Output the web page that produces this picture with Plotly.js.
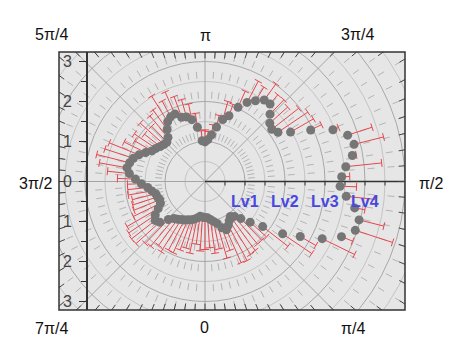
<!DOCTYPE html>
<html><head><meta charset="utf-8">
<script src="https://cdn.plot.ly/plotly-3.0.1.min.js"></script>
<style>html,body{margin:0;padding:0;background:#fff}#chart{width:456px;height:356px}</style>
</head><body><div id="chart"></div>
<script>
// ---- data ----
const thetaDeg = [0,4,8,12,16,20,24,28,32,36,40,44,48,52,56,60,64,68,72,76,80,84,88,92,96,100,104,108,112,116,120,124,128,132,136,140,144,148,152,156,160,164,168,172,176,180,184,188,192,196,200,204,208,212,216,220,224,228,232,236,240,244,248,252,256,260,264,268,272,276,280,284,288,292,296,300,304,308,312,316,320,324,328,332,336,340,344,348,352,356];
const radius = [0.90,0.91,0.96,1.02,1.09,1.23,1.32,1.24,1.15,1.08,1.14,1.29,1.52,1.83,2.34,2.75,3.26,3.68,3.95,3.97,3.80,3.55,3.38,3.42,3.54,3.74,3.84,3.75,3.45,2.94,2.47,2.20,2.12,2.18,2.34,2.53,2.52,2.38,2.24,2.03,1.75,1.61,1.39,1.18,1.05,0.99,1.02,1.37,1.58,1.68,1.71,1.85,1.83,1.76,1.61,1.44,1.37,1.38,1.42,1.48,1.53,1.65,1.78,1.88,1.94,1.98,1.90,1.74,1.59,1.44,1.35,1.27,1.25,1.22,1.24,1.35,1.50,1.58,1.52,1.32,1.21,1.17,1.12,1.09,1.05,1.02,0.98,0.93,0.88,0.89];
const errPlus = [0.80,0.75,0.85,0.70,0.90,0.60,0.90,1.00,1.00,1.05,0.90,0.75,0.55,0.80,0.88,0.45,0.90,0.30,0.98,0.64,0.26,0.76,0.41,0.20,0.90,0.10,0.76,0.64,0.15,0.30,0.66,0.90,0.85,0.60,0.50,0.30,0.50,0.40,0.60,0.44,0.30,0.47,0.30,0.25,0.20,0.30,0.25,0.35,0.40,0.45,0.55,0.60,0.45,0.76,0.60,0.70,0.55,0.80,0.50,0.65,0.50,0.60,0.80,0.75,0.85,0.70,0.55,0.45,0.35,0.50,0.60,0.60,0.65,0.70,0.75,0.90,0.80,0.75,0.80,0.83,0.90,0.80,0.95,0.85,0.90,0.80,0.75,0.90,0.70,0.85];
const radialLabels = ['Lv1','Lv2','Lv3','Lv4'];
const radialLabelVals = [1,2,3,4];
const angleLabels = ['0','π/4','π/2','3π/4','π','5π/4','3π/2','7π/4'];
const yTickVals = [-3,-2,-1,0,1,2,3];
const yTickText = ['3','2','1','0','1','2','3'];

// ---- layout constants ----
const W = 456, H = 356, ML = 59, MR = 51, MT = 52, MB = 46;
const XR = [-3.65, 5.0], YR = [-3.2125, 3.2375];
// angle label centres in page pixels
const angleLabelPx = [[204.5,327],[352.7,328],[431,183],[357.5,34],[205,35],[51,34],[35,183],[51,328]];
const FONT = 'Liberation Sans, Arial, sans-serif';

function dir(tdeg){ const t = tdeg*Math.PI/180; return [Math.sin(t), -Math.cos(t)]; }

// ---- grid shapes ----
const shapes = [];
for (let k = 1; k <= 12; k++) {
  const r = k*0.5;
  const major = (k % 2 === 0);
  shapes.push({type:'circle', xref:'x', yref:'y', x0:-r, y0:-r, x1:r, y1:r, layer:'below',
    line:{color: major ? '#a8a8a8' : '#c4c4c4', width:1}});
}
for (let a = 0; a < 360; a += 4.5) {
  if (a % 45 === 0) continue;
  const d = dir(a);
  shapes.push({type:'line', xref:'x', yref:'y', x0:d[0]*1.075, y0:d[1]*1.075, x1:d[0]*7, y1:d[1]*7, layer:'below',
    line:{color:'#b4b4b4', width:1, dash:'7px,13px'}});
}
for (let a = 0; a < 360; a += 45) {
  if (a === 90) continue;
  const d = dir(a);
  shapes.push({type:'line', xref:'x', yref:'y', x0:0, y0:0, x1:d[0]*7, y1:d[1]*7, layer:'below',
    line:{color:'#a4a4a4', width:1}});
}
shapes.push({type:'line', xref:'x', yref:'y', x0:0, y0:0, x1:XR[1], y1:0, layer:'below', line:{color:'#333', width:1.5}});
for (let v = 0.5; v < XR[1]; v += 0.5) {
  shapes.push({type:'line', xref:'x', yref:'y', x0:v, y0:0, x1:v, y1:-0.1, layer:'below', line:{color:'#333', width:1}});
}
for (let a = 0; a < 360; a += 4.5) {
  const d = dir(a);
  let t = Infinity;
  if (d[0] > 1e-9) t = Math.min(t, XR[1]/d[0]);
  if (d[0] < -1e-9) t = Math.min(t, XR[0]/d[0]);
  if (d[1] > 1e-9) t = Math.min(t, YR[1]/d[1]);
  if (d[1] < -1e-9) t = Math.min(t, YR[0]/d[1]);
  shapes.push({type:'line', xref:'x', yref:'y', x0:d[0]*(t-0.16), y0:d[1]*(t-0.16), x1:d[0]*t, y1:d[1]*t,
    line:{color:'#444', width:1}});
}
shapes.push({type:'rect', xref:'paper', yref:'paper', x0:0, y0:0, x1:1, y1:1, line:{color:'#333', width:1.5}});

// ---- traces ----
const px = [], py = [], ex = [], ey = [];
const cap = 0.1;
for (let i = 0; i < thetaDeg.length; i++) {
  const d = dir(thetaDeg[i]);
  const r0 = radius[i], r1 = radius[i] + errPlus[i];
  px.push(d[0]*r0); py.push(d[1]*r0);
  ex.push(d[0]*r0, d[0]*r1, null); ey.push(d[1]*r0, d[1]*r1, null);
  const tx = -d[1], ty = d[0];
  ex.push(d[0]*r1 - tx*cap, d[0]*r1 + tx*cap, null);
  ey.push(d[1]*r1 - ty*cap, d[1]*r1 + ty*cap, null);
}
const traces = [
  {type:'scatter', mode:'lines', x:ex, y:ey, line:{color:'#e8464e', width:1}, hoverinfo:'skip'},
  {type:'scatter', mode:'markers', x:px, y:py, marker:{size:9, color:'#767676'}}
];

// ---- annotations ----
const pw = W - ML - MR, ph = H - MT - MB;
const annotations = [];
angleLabels.forEach((t, i) => annotations.push({text:t,
  x:(angleLabelPx[i][0]-ML)/pw, y:(H-MB-angleLabelPx[i][1])/ph, xref:'paper', yref:'paper',
  showarrow:false, font:{family:FONT, size:16, color:'#111'}, xanchor:'center', yanchor:'middle'}));
radialLabels.forEach((t, i) => annotations.push({text:'<b>'+t+'</b>', x:radialLabelVals[i], y:-0.51, xref:'x', yref:'y',
  showarrow:false, font:{family:FONT, size:16, color:'#4848e0'}, xanchor:'center', yanchor:'middle'}));

const layout = {
  width:W, height:H,
  margin:{l:ML, r:MR, t:MT, b:MB, pad:0},
  paper_bgcolor:'#fff', plot_bgcolor:'#e6e6e6',
  showlegend:false,
  xaxis:{range:XR, visible:false, fixedrange:true},
  yaxis:{range:YR, anchor:'free', position:27/346, showline:true, linecolor:'#333', linewidth:1.5,
    ticks:'outside', ticklen:7, tickwidth:1, tickcolor:'#333', tickmode:'array', tickvals:yTickVals, ticktext:yTickText,
    tickfont:{family:FONT, size:16, color:'#444'}, ticklabelstandoff:4,
    minor:{tickmode:'array', tickvals:[-2.5,-1.5,-0.5,0.5,1.5,2.5], ticks:'outside', ticklen:5, tickcolor:'#333'},
    showgrid:false, zeroline:false, fixedrange:true},
  shapes:shapes, annotations:annotations
};
Plotly.newPlot('chart', traces, layout, {staticPlot:true, displayModeBar:false});
</script></body></html>
